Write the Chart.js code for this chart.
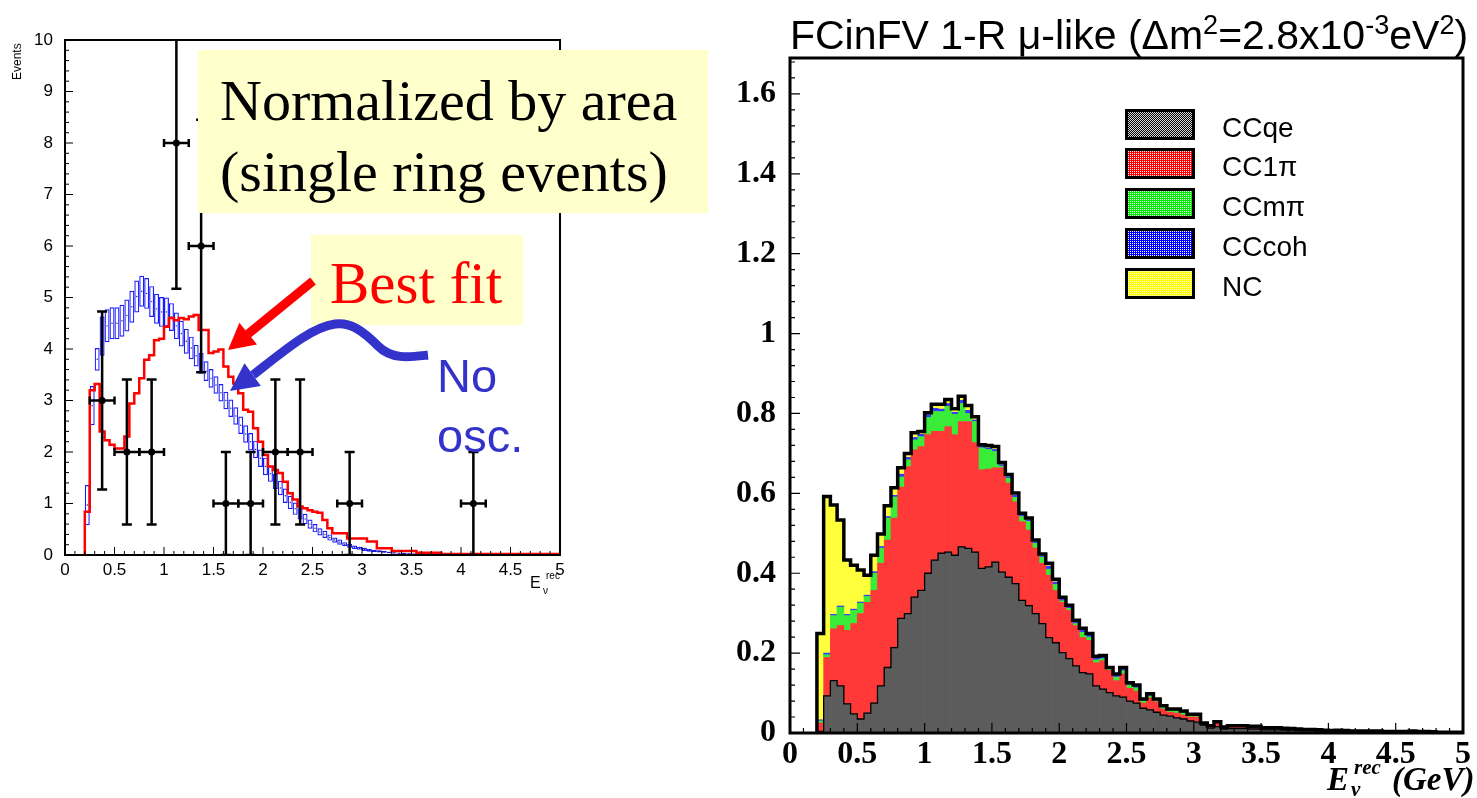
<!DOCTYPE html>
<html><head><meta charset="utf-8">
<script src="https://cdn.jsdelivr.net/npm/chart.js@4/dist/chart.umd.min.js"></script>
<style>
html,body{margin:0;padding:0;background:#fff;width:1477px;height:798px;overflow:hidden;position:relative}
canvas{position:absolute}
.t{position:absolute;white-space:nowrap;line-height:1}
.ser{font-family:'Liberation Serif','Times New Roman',serif}
.san{font-family:'Liberation Sans',Arial,sans-serif}
.lb{position:absolute;left:1125px;width:64px;height:25px;border:3px solid #000}
.up{position:relative;font-size:0.66em;top:-0.55em}
</style></head><body>
<canvas id="left" style="left:0;top:0;width:600px;height:600px" width="600" height="600"></canvas>
<canvas id="right" style="left:700px;top:0;width:777px;height:798px" width="777" height="798"></canvas>

<div class="t san" style="font-size:12px;left:11px;top:80px;transform-origin:left top;transform:rotate(-90deg)">Events</div>
<div class="t san" style="font-size:16px;left:530px;top:575px">E</div>
<div class="t san" style="font-size:10px;left:543px;top:586px">ν</div>
<div class="t san" style="font-size:10px;left:546px;top:571px">rec</div>

<div style="position:absolute;left:198px;top:50px;width:510px;height:163px;background:#ffffcc"></div>
<div class="t ser" style="font-size:58px;left:220px;top:72px">Normalized by area</div>
<div class="t ser" style="font-size:58px;left:220px;top:143px">(single ring events)</div>
<div style="position:absolute;left:311px;top:235px;width:212px;height:90px;background:#ffffcc"></div>
<div class="t ser" style="font-size:59px;left:330px;top:254px;color:#ff0000">Best fit</div>
<div class="t san" style="font-size:47px;left:437px;top:352px;color:#3333cc">No</div>
<div class="t san" style="font-size:47px;left:437px;top:412px;color:#3333cc">osc.</div>
<svg style="position:absolute;left:0;top:0" width="700" height="470">
<line x1="313" y1="281" x2="248" y2="334" stroke="#ff0000" stroke-width="9"/>
<polygon points="228,350 257,344.5 239.4,322.7" fill="#ff0000"/>
<path d="M428,355 C410,357 392,360 378,346 C362,330 350,322 335,324 C312,327 285,350 253,375" stroke="#3333cc" stroke-width="9" fill="none"/>
<polygon points="230,391 260.9,386 244.5,363.2" fill="#3333cc"/>
</svg>

<div class="t san" style="font-size:41px;left:1129px;top:15px;transform:translateX(-50%)">FCinFV 1-R μ-like (Δm<span class="up">2</span>=2.8x10<span class="up">-3</span>eV<span class="up">2</span>)</div>
<div class="t ser" style="font-size:33px;font-weight:bold;font-style:italic;left:1327px;top:763px">E</div>
<div class="t ser" style="font-size:21px;font-weight:bold;font-style:italic;left:1351px;top:779px">ν</div>
<div class="t ser" style="font-size:21px;font-weight:bold;font-style:italic;left:1354px;top:757px">rec</div>
<div class="t ser" style="font-size:33px;font-weight:bold;font-style:italic;left:1392px;top:763px">(GeV)</div>
<div id="legend"></div>

<script>
// ---------------- LEFT CHART DATA ----------------
const binWidth = 0.05;
const binStart = 0.20;
// No-oscillation expectation (blue boxes): centre values per 0.05 GeV bin starting at 0.20
const noOscCenter = [0.97,2.9,3.8,4.25,4.45,4.5,4.5,4.55,4.65,4.82,
 5.02,5.12,5.08,4.92,4.78,4.72,4.72,4.62,4.45,4.3,
 4.15,4.02,3.87,3.72,3.57,3.43,3.3,3.15,3.0,2.85,
 2.7,2.52,2.35,2.2,2.05,1.88,1.72,1.58,1.43,1.3,
 1.15,1.02,0.9,0.8,0.7,0.6,0.52,0.45,0.4,0.34,
 0.29,0.25,0.21,0.18,0.15,0.13,0.11,0.09,0.08,0.07,
 0.06,0.05,0.04,0.035,0.03,0.025,0.02,0.018,0.015,0.012,
 0.01,0.008,0.006,0.005,0.004,0.003];
const noOscErr = [0.39,0.38,0.22,0.38,0.32,0.31,0.31,0.31,0.31,0.31,
 0.31,0.3,0.3,0.3,0.29,0.29,0.28,0.27,0.26,0.25,
 0.24,0.22,0.21,0.2,0.19,0.18,0.17,0.17,0.17,0.17,
 0.17,0.17,0.17,0.17,0.17,0.17,0.17,0.16,0.15,0.14,
 0.14,0.13,0.12,0.11,0.1,0.09,0.08,0.07,0.07,0.06,
 0.05,0.05,0.04,0.04,0.035,0.03,0.03,0.025,0.02,0.02,
 0.018,0.015,0.012,0.01,0.01,0.008,0.007,0.006,0.005,0.005,
 0.004,0.003,0.003,0.002,0.002,0.002];
// Best fit (red histogram), per 0.05 GeV bin starting at 0.20
const bestFit = [0.84,3.2,3.32,2.4,2.23,2.14,2.07,2.07,2.3,2.94,
 3.14,3.43,3.79,3.88,4.17,4.2,4.43,4.6,4.56,4.6,
 4.58,4.63,4.66,4.37,4.37,3.92,3.95,3.99,3.66,3.46,
 3.33,3.14,2.82,2.78,2.46,2.2,1.94,1.72,1.65,1.59,
 1.42,1.2,1.08,0.94,0.91,0.87,0.84,0.82,0.68,0.52,
 0.42,0.42,0.42,0.32,0.32,0.32,0.32,0.26,0.26,0.13,
 0.13,0.13,0.08,0.08,0.08,0.08,0.08,0.045,0.045,0.045,
 0.045,0.045,0.02,0.02,0.02,0.02,0.02,0.02,0.02,0.02,
 0.02,0.02,0.02,0.02,0.02,0.02,0.02,0.02,0.02,0.02,
 0.02,0.02,0.02,0.02,0.02,0.02];
// Observed data points
const dataE    = [0.375,0.625,0.875,1.125,1.375,1.625,1.875,2.125,2.375,2.875,4.125];
const dataN    = [3,2,2,8,6,1,1,2,2,1,1];
const dataNErr = [1.73,1.41,1.41,2.83,2.45,1,1,1.41,1.41,1,1];
const dataEErr = [0.125,0.125,0.125,0.125,0.125,0.125,0.125,0.125,0.125,0.125,0.125];
const leftXTicks = [0,0.5,1,1.5,2,2.5,3,3.5,4,4.5,5];
const leftYTicks = [0,1,2,3,4,5,6,7,8,9,10];

// ---------------- RIGHT CHART DATA ----------------
const compNames = ['CCqe','CC1π','CCmπ','CCcoh','NC'];
const ccqe = [.004,.093,.131,.118,.073,.048,.035,.050,.075,.118,
 .164,.214,.287,.299,.340,.357,.400,.433,.450,.453,
 .445,.466,.462,.453,.412,.416,.428,.403,.390,.374,
 .332,.319,.299,.274,.239,.226,.201,.186,.168,.151,
 .148,.118,.110,.101,.093,.090,.080,.075,.062,.058,
 .052,.045,.042,.038,.035,.030,.027,.020,.012,.016,
 .010,.011,.011,.011,.010,.010,.008,.008,.008,.007,
 .007,.006,.006,.006,.005,.005,.004,.004,.004,.003,
 .003,.003,.003,.003,.002,.002,.002,.002,.002,.002,
 .002,.001,.001,.001,.001,.001];
const cc1pi = [.021,.096,.130,.151,.184,.226,.264,.277,.282,.307,
 .319,.324,.329,.368,.369,.360,.347,.322,.305,.314,
 .302,.314,.318,.274,.247,.245,.236,.261,.236,.205,
 .197,.189,.164,.151,.156,.131,.126,.121,.101,.088,
 .084,.058,.071,.056,.038,.058,.032,.030,.013,.030,
 .026,.015,.010,.012,.010,.010,.013,.002,.003,.009,
 .002,.003,.003,.003,.003,.003,.002,.002,.002,.002,
 .002,.002,.001,.001,.001,.001,.001,.002,.001,.001,
 .001,.001,.001,.001,.001,.001,.001,.001,.002,.001,
 .001,.001,.001,.001,.001,.001];
const ccmpi = [.005,.007,.033,.046,.037,.033,.026,.015,.043,.038,
 .055,.053,.025,.017,.025,.025,.043,.050,.050,.051,
 .051,.045,.020,.053,.055,.049,.041,.004,.012,.011,
 .013,.022,.012,.015,.015,.015,.004,.005,.005,.013,
 .008,.007,.005,.003,.009,.008,.008,.008,.005,.005,
 .003,.004,.004,.005,.005,.003,.003,.001,.001,.001,
 .001,.002,.002,.002,.002,.002,.001,.001,.001,.001,
 .001,.001,.001,.001,.001,.001,.001,.001,.001,.001,
 .001,.001,.001,.001,.001,.001,.001,.001,.001,.001,
 .001,.001,0,0,0,0];
const cccoh = [.003,.004,.003,.003,.003,.003,.003,.003,.004,.004,
 .004,.004,.007,.006,.006,.006,.007,.008,.006,.007,
 .005,.008,.008,.004,.004,.004,.005,.004,.004,.005,
 .004,.004,.004,.003,.008,.006,.005,.004,.004,.005,
 .005,.004,.004,.002,.005,.004,.003,.004,.003,.003,
 .002,.002,.002,.003,.003,.002,.002,.001,.001,.001,
 .001,.001,.001,.001,.001,.001,.001,.001,.001,.001,
 0,0,0,0,0,0,0,0,0,0,
 0,0,0,0,0,0,0,0,0,0,
 0,0,0,0,0,0];
const nc = [.216,.392,.274,.215,.136,.110,.080,.050,.041,.031,
 .027,.019,.016,.010,.012,.007,.005,.010,.012,.010,
 .009,.010,.012,.008,.004,.006,.007,.005,.005,.006,
 .004,.004,.004,.005,.007,.007,.004,.004,.004,.005,
 .004,.005,.004,.002,.003,.004,.003,.003,.002,.002,
 .002,.002,.002,.002,.002,.002,.002,.001,.001,.001,
 .001,.001,.001,.001,.001,.001,.001,.001,.001,.001,
 .001,.001,.001,.001,.001,0,0,0,0,0,
 0,0,0,0,0,0,0,0,0,0,
 0,0,0,0,0,0];
const rightXTicks = [0,0.5,1,1.5,2,2.5,3,3.5,4,4.5,5];
const rightYTicks = [0,0.2,0.4,0.6,0.8,1,1.2,1.4,1.6];
const compColors = ['#000000','#ff0000','#00ee00','#0000ff','#ffff00'];
const compDots   = ['#dcdcdc','#ffffff','#ffffff','#ffffff','#ffffff'];
const barColors  = ['#5c5c5c','#ff3838','#38ec38','#3838ff','#ffff3c'];

// ---------------- helpers ----------------
const SANS = "'Liberation Sans', Arial, sans-serif";
const SERIF = "'Liberation Serif', serif";
const lowEdge = i => binStart + binWidth * i;
const centre = i => binStart + binWidth * (i + 0.5);
function stepPoints(vals) {
  const pts = [{x: binStart, y: 0}];
  vals.forEach((v, i) => pts.push({x: lowEdge(i), y: v}));
  pts.push({x: lowEdge(vals.length), y: vals[vals.length - 1]});
  return pts;
}
function ditherURL(color, dot, checker) {
  const c = document.createElement('canvas'); c.width = 2; c.height = 2;
  const g = c.getContext('2d');
  g.fillStyle = color; g.fillRect(0, 0, 2, 2);
  g.fillStyle = dot; g.fillRect(0, 0, 1, 1);
  if (checker) g.fillRect(1, 1, 1, 1);
  return c.toDataURL();
}
const rootAxes = {
  id: 'rootAxes',
  afterDatasetsDraw(chart, args, o) {
    const {ctx, chartArea: a, scales: {x, y}} = chart;
    ctx.save();
    ctx.strokeStyle = '#000';
    ctx.lineWidth = o.tickWidth;
    ctx.beginPath();
    const isMaj = (v, m) => Math.abs(v / m - Math.round(v / m)) < 1e-6;
    for (let k = 0; x.min + k * o.xMinor <= x.max + 1e-9; k++) {
      const v = x.min + k * o.xMinor, px = x.getPixelForValue(v);
      const L = isMaj(v, o.xMajor) ? o.major : o.minor;
      ctx.moveTo(px, a.bottom); ctx.lineTo(px, a.bottom - L);
    }
    for (let k = 0; y.min + k * o.yMinor <= y.max + 1e-9; k++) {
      const v = y.min + k * o.yMinor, py = y.getPixelForValue(v);
      const L = isMaj(v, o.yMajor) ? o.major : o.minor;
      ctx.moveTo(a.left, py); ctx.lineTo(a.left + L, py);
    }
    ctx.stroke();
    ctx.lineWidth = o.frame;
    ctx.strokeRect(a.left, a.top, a.right - a.left, a.bottom - a.top);
    ctx.restore();
  }
};
const errBars = {
  id: 'errBars',
  afterDatasetsDraw(chart) {
    const {ctx, chartArea: a, scales: {x, y}} = chart;
    ctx.save();
    ctx.beginPath(); ctx.rect(a.left, a.top, a.right - a.left, a.bottom - a.top); ctx.clip();
    ctx.strokeStyle = '#000'; ctx.lineWidth = 2.5;
    dataE.forEach((e, i) => {
      const px = x.getPixelForValue(e), py = y.getPixelForValue(dataN[i]);
      const x0 = x.getPixelForValue(e - dataEErr[i]), x1 = x.getPixelForValue(e + dataEErr[i]);
      const y0 = y.getPixelForValue(dataN[i] - dataNErr[i]), y1 = y.getPixelForValue(dataN[i] + dataNErr[i]);
      ctx.beginPath();
      ctx.moveTo(x0, py); ctx.lineTo(x1, py);
      ctx.moveTo(px, y0); ctx.lineTo(px, y1);
      ctx.moveTo(x0, py - 4); ctx.lineTo(x0, py + 4);
      ctx.moveTo(x1, py - 4); ctx.lineTo(x1, py + 4);
      ctx.moveTo(px - 5, y0); ctx.lineTo(px + 5, y0);
      ctx.moveTo(px - 5, y1); ctx.lineTo(px + 5, y1);
      ctx.stroke();
    });
    ctx.restore();
  }
};
const fmt = v => String(Number(v.toFixed(2)));

// ---------------- RIGHT CHART ----------------
const comps = [ccqe, cc1pi, ccmpi, cccoh, nc];
const total = ccqe.map((v, i) => comps.reduce((s, arr) => s + arr[i], 0));
const rightSets = comps.map((arr, k) => ({
  type: 'bar', label: compNames[k], stack: 'main',
  data: arr.map((v, i) => ({x: centre(i), y: v})),
  backgroundColor: barColors[k], borderWidth: 0, barPercentage: 1, categoryPercentage: 1, order: 10 + k
}));
rightSets.push({ type: 'line', stack: 'qeTop', data: stepPoints(ccqe), stepped: 'before',
  borderColor: '#000', borderWidth: 1.3, pointRadius: 0, fill: false, order: 1 });
rightSets.push({ type: 'line', stack: 'total', data: stepPoints(total), stepped: 'before',
  borderColor: '#000', borderWidth: 3.5, pointRadius: 0, fill: false, order: 0 });

new Chart(document.getElementById('right'), {
  type: 'bar',
  data: {datasets: rightSets},
  options: {
    responsive: false, animation: false, events: [],
    layout: {padding: {top: 58, right: 14, left: 0, bottom: 0}},
    plugins: {legend: {display: false}, tooltip: {enabled: false},
      rootAxes: {tickWidth: 1.2, frame: 3, major: 10, minor: 5, xMajor: 0.5, xMinor: 0.1, yMajor: 0.2, yMinor: 0.04}},
    scales: {
      x: { type: 'linear', min: 0, max: 5, offset: false,
        grid: {display: false, drawTicks: false}, border: {display: false},
        afterBuildTicks: s => { s.ticks = rightXTicks.map(v => ({value: v})); },
        ticks: {color: '#000', font: {size: 32, weight: 'bold', family: SERIF}, padding: 3,
          maxRotation: 0, autoSkip: false, callback: fmt},
        afterFit: s => { s.height = 65; } },
      y: { min: 0, max: 1.69, stacked: true,
        grid: {display: false, drawTicks: false}, border: {display: false},
        afterBuildTicks: s => { s.ticks = rightYTicks.map(v => ({value: v})); },
        ticks: {color: '#000', font: {size: 32, weight: 'bold', family: SERIF}, padding: 14,
          autoSkip: false, callback: fmt},
        afterFit: s => { s.width = 90; } }
    }
  },
  plugins: [rootAxes]
});

// ---------------- LEFT CHART ----------------
new Chart(document.getElementById('left'), {
  type: 'bar',
  data: {
    datasets: [
      { type: 'scatter', data: dataE.map((e, i) => ({x: e, y: dataN[i]})),
        pointRadius: 3.5, pointBackgroundColor: '#000', pointBorderWidth: 0, order: 0 },
      { type: 'line', data: stepPoints(bestFit), stepped: 'before', borderColor: '#ff0000',
        borderWidth: 2.5, pointRadius: 0, fill: false, order: 1 },
      { type: 'scatter', data: noOscCenter.map((v, i) => ({x: centre(i), y: v})),
        pointRadius: 0.7, pointBackgroundColor: '#222266', pointBorderWidth: 0, order: 2 },
      { type: 'bar', data: noOscCenter.map((v, i) => ({x: centre(i), y: [v - noOscErr[i], v + noOscErr[i]]})),
        backgroundColor: 'rgba(0,0,0,0)', borderColor: '#1a1aff', borderWidth: 1.2,
        borderSkipped: false, barPercentage: 1, categoryPercentage: 1, inflateAmount: 0, order: 3 }
    ]
  },
  options: {
    responsive: false, animation: false, events: [],
    layout: {padding: {top: 40, right: 40, left: 0, bottom: 0}},
    plugins: {legend: {display: false}, tooltip: {enabled: false},
      rootAxes: {tickWidth: 1, frame: 2, major: 8, minor: 4, xMajor: 0.5, xMinor: 0.1, yMajor: 1, yMinor: 0.2}},
    scales: {
      x: { type: 'linear', min: 0, max: 5, offset: false,
        grid: {display: false, drawTicks: false}, border: {display: false},
        afterBuildTicks: s => { s.ticks = leftXTicks.map(v => ({value: v})); },
        ticks: {color: '#000', font: {size: 17, family: SANS}, padding: 5, maxRotation: 0, autoSkip: false, callback: fmt},
        afterFit: s => { s.height = 45; } },
      y: { min: 0, max: 10,
        grid: {display: false, drawTicks: false}, border: {display: false},
        afterBuildTicks: s => { s.ticks = leftYTicks.map(v => ({value: v})); },
        ticks: {color: '#000', font: {size: 17, family: SANS}, padding: 12, autoSkip: false, callback: fmt},
        afterFit: s => { s.width = 65; } }
    }
  },
  plugins: [errBars, rootAxes]
});

// legend (HTML)
const legendTops = [109, 148, 188, 228, 268];
const lg = document.getElementById('legend');
compNames.forEach((name, k) => {
  const b = document.createElement('div');
  b.className = 'lb';
  b.style.top = legendTops[k] + 'px';
  b.style.backgroundImage = 'url(' + ditherURL(compColors[k], compDots[k], k === 0) + ')';
  b.style.imageRendering = 'pixelated';
  lg.appendChild(b);
  const t = document.createElement('div');
  t.className = 't san';
  t.style.fontSize = '28px';
  t.style.left = '1222px';
  t.style.top = (legendTops[k] + 5) + 'px';
  t.textContent = name;
  lg.appendChild(t);
});
</script>
</body></html>
